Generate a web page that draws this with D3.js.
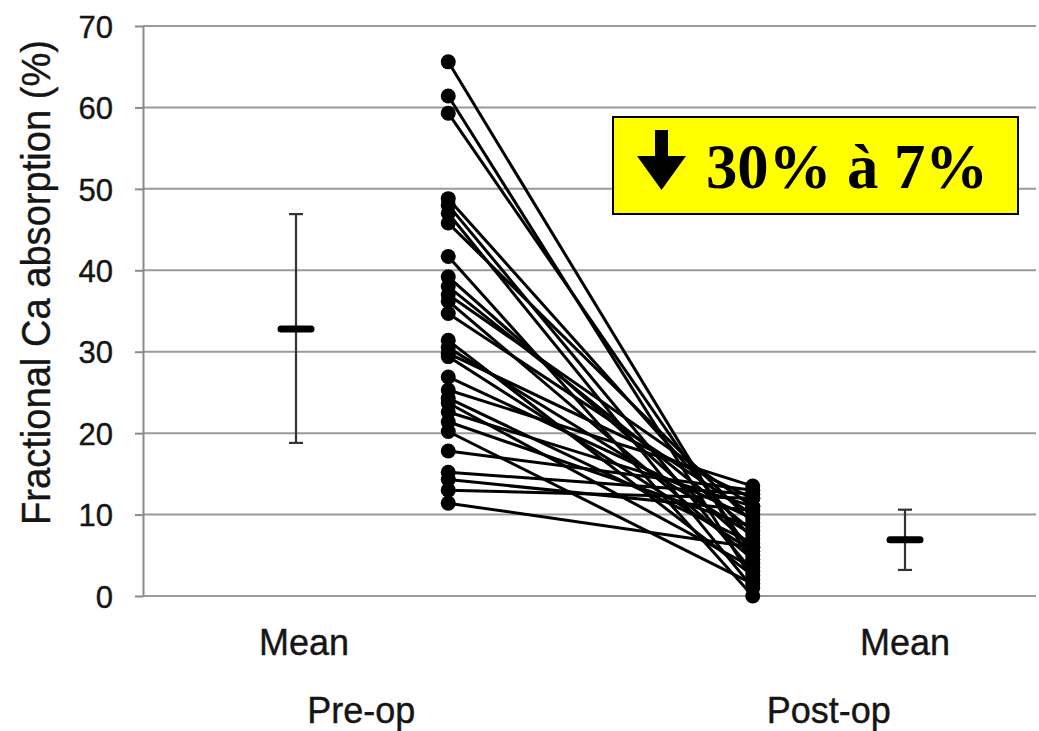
<!DOCTYPE html>
<html>
<head>
<meta charset="utf-8">
<script src="https://cdn.jsdelivr.net/npm/d3@7"></script>
<style>
  html, body { margin: 0; padding: 0; background: #fff; }
  svg { display: block; }
</style>
</head>
<body>
<svg id="chart" width="1039" height="731"></svg>
<script>
// ---- data ----
const categories = ["MeanPre", "Pre-op", "gap", "Post-op", "MeanPost"];
const categoryLabels = ["Mean", "Pre-op", "", "Post-op", "Mean"];
const yTicks = [0, 10, 20, 30, 40, 50, 60, 70];
const preOp  = [65.6, 61.4, 59.3, 48.8, 48.0, 47.0, 45.8, 41.7, 39.2, 38.0, 37.0, 36.2, 34.7, 31.4, 30.5,
                29.8, 29.4, 26.9, 25.3, 24.3, 23.7, 22.6, 21.4, 20.2, 17.8, 15.2, 14.3, 13.0, 11.4];
const postOp = [4.0, 2.0, 5.0, 7.0, 3.0, 1.0, 9.0, 0.0, 6.0, 8.0, 11.0, 4.5, 10.0, 2.5, 7.5,
                12.0, 5.5, 9.5, 13.5, 6.5, 3.5, 11.0, 8.5, 1.5, 13.0, 12.5, 10.5, 12.0, 6.0];
const meanPre = 32.8, errPre = [18.8, 46.9];
const meanPost = 6.9, errPost = [3.2, 10.6];
const yTitle = "Fractional Ca absorption (%)";
const annotation = "30% à 7%";

// ---- layout ----
const svg = d3.select("#chart");
const x = d3.scalePoint().domain(categories).range([296, 905]);
const y = d3.scaleLinear().domain([0, 70]).range([596, 26]);
const axisX = 143, gridRight = 1036;
const sans = "'Liberation Sans', Arial, Helvetica, sans-serif";
const textCol = "#151515";

// gridlines
svg.append("g").selectAll("line").data(yTicks).join("line")
  .attr("x1", axisX).attr("x2", gridRight)
  .attr("y1", d => y(d)).attr("y2", d => y(d))
  .attr("stroke", "#9a9a9a").attr("stroke-width", 2);

// y axis
const yAxis = d3.axisLeft(y).tickValues(yTicks).tickSize(8).tickPadding(22).tickSizeOuter(0);
const ga = svg.append("g").attr("transform", `translate(${axisX},0)`).call(yAxis);
ga.select(".domain").attr("stroke", "#8a8a8a").attr("stroke-width", 2);
ga.selectAll(".tick line").attr("stroke", "#8a8a8a").attr("stroke-width", 2);
ga.selectAll(".tick text").attr("font-family", sans).attr("font-size", 31)
  .attr("fill", textCol).attr("dy", "0.36em")
  .attr("stroke", textCol).attr("stroke-width", 0.4);

// y title
svg.append("text")
  .attr("transform", `translate(50,${(40 + 525) / 2}) rotate(-90)`)
  .attr("text-anchor", "middle")
  .attr("font-family", sans).attr("font-size", 41).attr("fill", textCol)
  .attr("stroke", textCol).attr("stroke-width", 0.4)
  .attr("textLength", 485).attr("lengthAdjust", "spacingAndGlyphs")
  .text(yTitle);

// x labels (staggered)
svg.append("g").selectAll("text").data(categories).join("text")
  .attr("x", (d, i) => x(d) + (i === 0 ? 8 : i === 1 ? -87 : i === 3 ? 76 : 0))
  .attr("y", (d, i) => (i === 0 || i === 4) ? 655 : 723)
  .attr("text-anchor", "middle")
  .attr("font-family", sans).attr("font-size", 36).attr("fill", textCol)
  .attr("stroke", textCol).attr("stroke-width", 0.4)
  .text((d, i) => categoryLabels[i]);

// paired lines
const pairs = preOp.map((v, i) => [v, postOp[i]]);
svg.append("g").selectAll("line").data(pairs).join("line")
  .attr("x1", x("Pre-op")).attr("y1", d => y(d[0]))
  .attr("x2", x("Post-op")).attr("y2", d => y(d[1]))
  .attr("stroke", "#000").attr("stroke-width", 3);

// dots
svg.append("g").selectAll("circle").data(preOp).join("circle")
  .attr("cx", x("Pre-op")).attr("cy", d => y(d)).attr("r", 7.5).attr("fill", "#000");
svg.append("g").selectAll("circle").data(postOp).join("circle")
  .attr("cx", x("Post-op")).attr("cy", d => y(d)).attr("r", 7.5).attr("fill", "#000");

// mean + error bars
function meanBar(cat, m, e) {
  const cx = x(cat), g = svg.append("g");
  g.append("line").attr("x1", cx).attr("x2", cx).attr("y1", y(e[0])).attr("y2", y(e[1]))
    .attr("stroke", "#333").attr("stroke-width", 2.2);
  e.forEach(v => g.append("line").attr("x1", cx - 7).attr("x2", cx + 7)
    .attr("y1", y(v)).attr("y2", y(v)).attr("stroke", "#333").attr("stroke-width", 2.2));
  g.append("line").attr("x1", cx - 15).attr("x2", cx + 15).attr("y1", y(m)).attr("y2", y(m))
    .attr("stroke", "#000").attr("stroke-width", 7).attr("stroke-linecap", "round");
}
meanBar("MeanPre", meanPre, errPre);
meanBar("MeanPost", meanPost, errPost);

// annotation box
const box = svg.append("g");
box.append("rect").attr("x", 613).attr("y", 117).attr("width", 405).attr("height", 97)
  .attr("fill", "#ffff00").attr("stroke", "#000").attr("stroke-width", 2);
box.append("path")
  .attr("d", "M655,130 L668,130 L668,156 L686,156 L661.5,190 L637,156 L655,156 Z")
  .attr("fill", "#000");
box.append("text").attr("x", 706).attr("y", 188)
  .attr("font-family", "'Liberation Serif', 'Times New Roman', serif")
  .attr("font-weight", "bold").attr("font-size", 64).attr("fill", "#000")
  .attr("textLength", 282).attr("lengthAdjust", "spacingAndGlyphs")
  .text(annotation);
</script>
</body>
</html>
